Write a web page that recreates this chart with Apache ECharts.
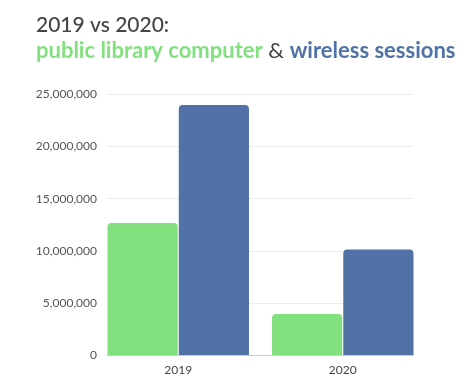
<!DOCTYPE html>
<html><head><meta charset="utf-8">
<script src="https://cdn.jsdelivr.net/npm/echarts@6/dist/echarts.min.js"></script>
<style>html,body{margin:0;padding:0;background:#fff}#c{width:476px;height:388px}</style>
</head><body><div id="c"></div>
<script>
const categories = ['2019', '2020'];
const computerSessions = [12670000, 3930000];
const wirelessSessions = [23990000, 10120000];
const yTicks = [0, 5000000, 10000000, 15000000, 20000000, 25000000];

const GREEN = '#82E07E', BLUE = '#5072A6', FONT = 'Lato';
const chart = echarts.init(document.getElementById('c'));
chart.setOption({
  animation: false,
  backgroundColor: '#fff',
  title: {
    left: 31, top: 8,
    text: '{a|2019 vs 2020:}\n{g|public library computer}{d| & }{b|wireless sessions}',
    textStyle: {
      fontFamily: FONT, fontWeight: 'normal',
      rich: {
        a: {fontSize: 21, color: '#444', fontWeight: 500, fontFamily: FONT, lineHeight: 25},
        g: {fontSize: 22, color: GREEN, fontWeight: 'bold', fontFamily: FONT, lineHeight: 25},
        d: {fontSize: 22, color: '#444', fontWeight: 'normal', fontFamily: FONT, lineHeight: 25},
        b: {fontSize: 22, color: BLUE, fontWeight: 'bold', fontFamily: FONT, lineHeight: 25}
      }
    }
  },
  grid: [
    {left: 107, right: 63, top: 94.5, bottom: 33},
    {left: 96, width: 329, top: 94.5, bottom: 33}
  ],
  xAxis: [
    {gridIndex: 0, type: 'category', data: categories, axisLine: {lineStyle: {color: '#ccc'}}, axisTick: {show: false}, axisLabel: {show: false}},
    {gridIndex: 1, type: 'category', data: categories, axisLine: {show: false}, axisTick: {show: false},
     axisLabel: {fontFamily: FONT, fontSize: 12, color: '#444', margin: 9}}
  ],
  yAxis: [
    {gridIndex: 0, type: 'value', min: yTicks[0], max: yTicks[yTicks.length - 1], interval: 5000000,
     axisLine: {show: false}, axisTick: {show: false},
     splitLine: {lineStyle: {color: '#ebebeb'}},
     axisLabel: {fontFamily: FONT, fontSize: 12, color: '#555', margin: 10,
       formatter: v => v.toLocaleString('en-US')}},
    {gridIndex: 1, type: 'value', min: yTicks[0], max: yTicks[yTicks.length - 1], show: false, splitLine: {show: false}}
  ],
  series: [
    {type: 'bar', name: 'computer', xAxisIndex: 1, yAxisIndex: 1, data: computerSessions,
     barCategoryGap: '14%', barGap: '1.5%', itemStyle: {color: GREEN, borderRadius: [4, 4, 0, 0]}},
    {type: 'bar', name: 'wireless', xAxisIndex: 1, yAxisIndex: 1, data: wirelessSessions,
     barCategoryGap: '14%', barGap: '1.5%', itemStyle: {color: BLUE, borderRadius: [4, 4, 0, 0]}}
  ]
});
</script></body></html>
